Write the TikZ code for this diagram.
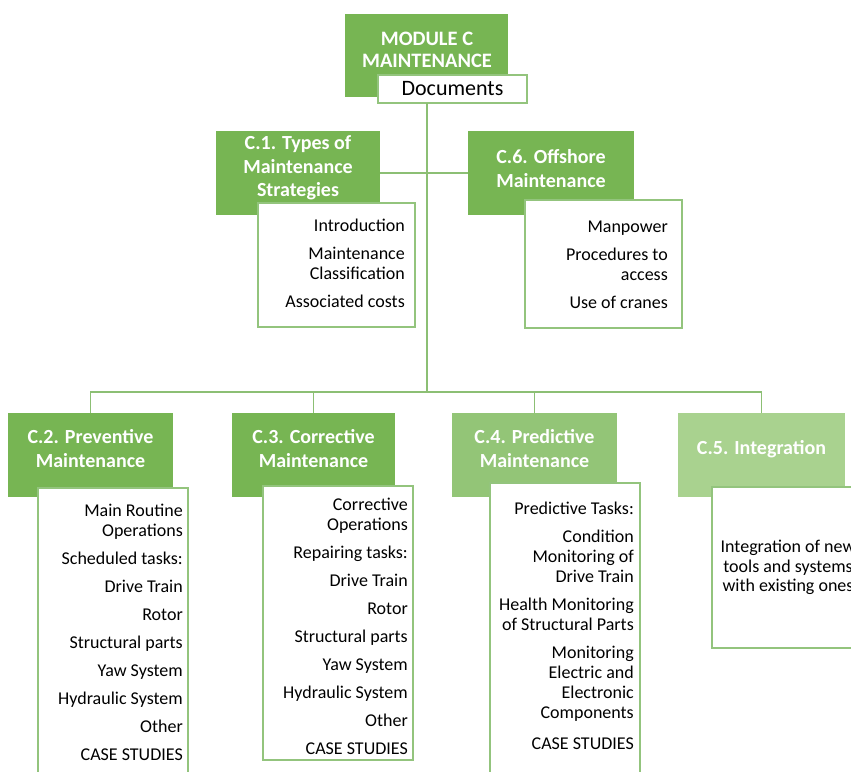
\documentclass[tikz,border=0pt]{standalone}
\usepackage{fontspec}
\setmainfont{Carlito}
\definecolor{hdrA}{HTML}{77B553}
\definecolor{hdrB}{HTML}{93C577}
\definecolor{hdrC}{HTML}{A9D28F}
\definecolor{linecol}{HTML}{8CBF74}
\definecolor{bordcol}{HTML}{93C47D}
\tikzset{
  hdr/.style={draw=none, inner sep=0pt, outer sep=0pt, anchor=north west},
  cbox/.style={draw=bordcol, line width=1.6pt, fill=white, inner sep=0pt, outer sep=0pt, anchor=north west},
  ttl/.style={text=white, align=center, inner sep=0pt, font=\bfseries\fontsize{20}{23.5}\selectfont},
  items/.style={text=black, align=right, inner sep=0pt, anchor=north east, font=\fontsize{18}{20}\selectfont},
  conn/.style={draw=linecol, line width=1.8pt}
}
\begin{document}
\begin{tikzpicture}[x=1pt,y=-1pt]
\useasboundingbox (0,0) rectangle (851,771);
\clip (0,0) rectangle (851,771);

\coordinate (bus) at (427,392);

% top module
\node[hdr, fill=hdrA, minimum width=163pt, minimum height=83pt] (mod) at (345,14) {};
\node[ttl, font=\bfseries\fontsize{20.5}{22}\selectfont] (modt) at (427,50) {MODULE C\\MAINTENANCE};
\node[cbox, minimum width=149pt, minimum height=28pt] (doc) at (378,75) {};
\node[text=black, inner sep=0pt, font=\fontsize{22}{24}\selectfont] (doct) at (doc.center) {Documents};

% C.1
\node[hdr, fill=hdrA, minimum width=164pt, minimum height=84pt] (h1) at (216,131) {};
\node[ttl] (t1) at (298,168) {C.1. Types of\\Maintenance\\Strategies};
\node[cbox, minimum width=157pt, minimum height=124pt] (b1) at (258,203) {};
\node[items] (i1) at (405,217) {\strut Introduction\\[8pt]Maintenance\\Classification\\[8pt]Associated costs};

% C.6
\node[hdr, fill=hdrA, minimum width=166pt, minimum height=84pt] (h6) at (468,131) {};
\node[ttl] (t6) at (551,168.5) {C.6. Offshore\\Maintenance};
\node[cbox, minimum width=157pt, minimum height=128pt] (b6) at (525,200) {};
\node[items] (i6) at (668,218) {\strut Manpower\\[8pt]Procedures to\\access\\[8pt]Use of cranes};

% C.2
\node[hdr, fill=hdrA, minimum width=165pt, minimum height=84pt] (h2) at (8,413) {};
\node[ttl] (t2) at (90.5,448.5) {C.2. Preventive\\Maintenance};
\node[cbox, minimum width=150pt, minimum height=310pt] (b2) at (38,488) {};
\node[items] (i2) at (183,502) {\strut Main Routine\\Operations\\[8pt]Scheduled tasks:\\[8pt]Drive Train\\[8pt]Rotor\\[8pt]Structural parts\\[8pt]Yaw System\\[8pt]Hydraulic System\\[8pt]Other\\[8pt]CASE STUDIES};

% C.3
\node[hdr, fill=hdrA, minimum width=163pt, minimum height=84pt] (h3) at (232,413) {};
\node[ttl] (t3) at (313.5,448.5) {C.3. Corrective\\Maintenance};
\node[cbox, minimum width=150pt, minimum height=274pt] (b3) at (263,486) {};
\node[items] (i3) at (408,496) {\strut Corrective\\Operations\\[8pt]Repairing tasks:\\[8pt]Drive Train\\[8pt]Rotor\\[8pt]Structural parts\\[8pt]Yaw System\\[8pt]Hydraulic System\\[8pt]Other\\[8pt]CASE STUDIES};

% C.4
\node[hdr, fill=hdrB, minimum width=165pt, minimum height=84pt] (h4) at (452,413) {};
\node[ttl] (t4) at (534.5,448.5) {C.4. Predictive\\Maintenance};
\node[cbox, minimum width=150pt, minimum height=310pt] (b4) at (490,483) {};
\node[items] (i4) at (634,500) {\strut Predictive Tasks:\\[8pt]Condition\\Monitoring of\\Drive Train\\[8pt]Health Monitoring\\of Structural Parts\\[8pt]Monitoring\\Electric and\\Electronic\\Components\\[11pt]CASE STUDIES};

% C.5
\node[hdr, fill=hdrC, minimum width=167pt, minimum height=84pt] (h5) at (678,413) {};
\node[ttl] (t5) at (761.5,449) {C.5. Integration};
\node[cbox, minimum width=165pt, minimum height=161pt] (b5) at (712,487) {};
\node[text=black, align=center, inner sep=0pt, font=\fontsize{18}{19.5}\selectfont] (i5) at (788,567.5) {Integration of new\\tools and systems\\with existing ones};

% connectors
\draw[conn] (doc.south -| bus) -- (bus);
\draw[conn] (h1.east) -- (h6.west);
\draw[conn] (h2.north) -- (h2.north |- bus) -- (h5.north |- bus) -- (h5.north);
\draw[conn] (h3.north) -- (h3.north |- bus);
\draw[conn] (h4.north) -- (h4.north |- bus);
\end{tikzpicture}
\end{document}
